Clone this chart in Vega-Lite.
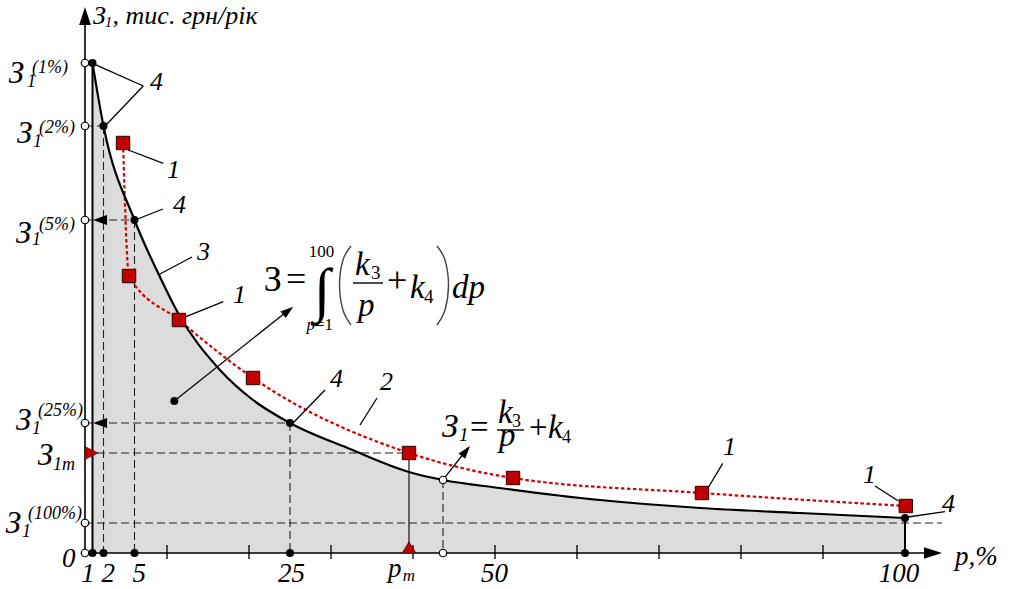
{
  "$schema": "https://vega.github.io/schema/vega-lite/v6.json",
  "width": 1009,
  "height": 589,
  "autosize": {"type": "none"},
  "padding": 0,
  "background": "white",
  "config": {"view": {"stroke": null}, "text": {"font": "Liberation Serif, Times New Roman, serif"}},
  "datasets": {
    "curve": [
      {"p": 1, "z": 49.0}, {"p": 2, "z": 42.7}, {"p": 5, "z": 33.3}, {"p": 8.92, "z": 27.6},
      {"p": 11.34, "z": 24.0}, {"p": 16.46, "z": 18.3}, {"p": 20.49, "z": 15.3}, {"p": 25, "z": 13.0},
      {"p": 32.32, "z": 10.4}, {"p": 39.51, "z": 8.1}, {"p": 43.66, "z": 7.3}, {"p": 50.61, "z": 6.5},
      {"p": 62.8, "z": 5.3}, {"p": 75.0, "z": 4.5}, {"p": 87.2, "z": 4.0}, {"p": 100, "z": 3.5}
    ],
    "squares": [
      {"p": 3.89, "z": 41.0}, {"p": 4.47, "z": 27.7}, {"p": 11.46, "z": 23.3}, {"p": 20.49, "z": 17.5},
      {"p": 39.51, "z": 10.0}, {"p": 52.2, "z": 7.5}, {"p": 75.24, "z": 6.0}, {"p": 100.1, "z": 4.7}
    ],
    "dashed": [
      {"p": 0, "z": 42.7, "p2": 2.05, "z2": 42.7},
      {"p": 0, "z": 33.3, "p2": 5, "z2": 33.3},
      {"p": 0, "z": 13, "p2": 25, "z2": 13},
      {"p": 0, "z": 10, "p2": 39.51, "z2": 10},
      {"p": 0, "z": 3, "p2": 104.5, "z2": 3},
      {"p": 2, "z": 42.7, "p2": 2, "z2": 0},
      {"p": 5, "z": 33.3, "p2": 5, "z2": 0},
      {"p": 25, "z": 13, "p2": 25, "z2": 0},
      {"p": 43.66, "z": 7.3, "p2": 43.66, "z2": 0}
    ],
    "thin": [{"p": 39.51, "z": 10, "p2": 39.51, "z2": 0}],
    "bounds": [
      {"p": 1, "z": 49, "p2": 1, "z2": 0},
      {"p": 100, "z": 3.5, "p2": 100, "z2": 0}
    ],
    "axes": [
      {"p": 0, "z": 0, "p2": 0, "z2": 53.2},
      {"p": 0, "z": 0, "p2": 102.5, "z2": 0}
    ],
    "ticks": [
      {"p": 10, "z": 0.8, "p2": 10, "z2": -0.6}, {"p": 20, "z": 0.8, "p2": 20, "z2": -0.6},
      {"p": 30, "z": 0.8, "p2": 30, "z2": -0.6}, {"p": 40, "z": 0.8, "p2": 40, "z2": -0.6},
      {"p": 50, "z": 0.8, "p2": 50, "z2": -0.6}, {"p": 60, "z": 0.8, "p2": 60, "z2": -0.6},
      {"p": 70, "z": 0.8, "p2": 70, "z2": -0.6}, {"p": 80, "z": 0.8, "p2": 80, "z2": -0.6},
      {"p": 90, "z": 0.8, "p2": 90, "z2": -0.6}
    ],
    "fracbars": [
      {"p": 32.68, "z": 27.0, "p2": 36.34, "z2": 27.0},
      {"p": 50.24, "z": 12.3, "p2": 53.54, "z2": 12.3}
    ],
    "parens": [
      {"id": "L", "i": 0, "p": 32.44, "z": 30.7}, {"id": "L", "i": 1, "p": 31.46, "z": 29.3},
      {"id": "L", "i": 2, "p": 31.04, "z": 26.8}, {"id": "L", "i": 3, "p": 31.46, "z": 24.3},
      {"id": "L", "i": 4, "p": 32.44, "z": 22.8},
      {"id": "R", "i": 0, "p": 42.93, "z": 30.7}, {"id": "R", "i": 1, "p": 43.9, "z": 29.3},
      {"id": "R", "i": 2, "p": 44.33, "z": 26.8}, {"id": "R", "i": 3, "p": 43.9, "z": 24.3},
      {"id": "R", "i": 4, "p": 42.93, "z": 22.8}
    ],
    "leaders": [
      {"p": 1.0, "z": 48.97, "p2": 6.35, "z2": 46.7},
      {"p": 2.08, "z": 42.63, "p2": 6.35, "z2": 46.7},
      {"p": 4.4, "z": 40.3, "p2": 9.43, "z2": 38.97},
      {"p": 5.08, "z": 33.3, "p2": 9.38, "z2": 34.4},
      {"p": 8.62, "z": 27.8, "p2": 13.05, "z2": 29.6},
      {"p": 12.32, "z": 23.63, "p2": 16.87, "z2": 25.13},
      {"p": 10.89, "z": 15.2, "p2": 25.0, "z2": 24.4},
      {"p": 25.37, "z": 13.0, "p2": 29.27, "z2": 16.3},
      {"p": 33.54, "z": 12.8, "p2": 35.61, "z2": 15.5},
      {"p": 43.7, "z": 7.37, "p2": 46.7, "z2": 10.5},
      {"p": 75.98, "z": 6.5, "p2": 77.77, "z2": 8.97},
      {"p": 96.34, "z": 6.7, "p2": 99.15, "z2": 5.23},
      {"p": 100.37, "z": 3.6, "p2": 104.88, "z2": 4.13}
    ],
    "arrows": [
      {"kind": "axis", "p": 0, "z": 54.6, "dir": -90},
      {"kind": "axis", "p": 104.51, "z": 0, "dir": 0},
      {"kind": "guide", "p": 1.05, "z": 33.3, "dir": 180},
      {"kind": "guide", "p": 1.05, "z": 13, "dir": 180},
      {"kind": "note", "p": 25.4, "z": 24.63, "dir": -38.4},
      {"kind": "note", "p": 46.95, "z": 10.7, "dir": -51.5}
    ],
    "dots": [
      {"p": 1, "z": 49}, {"p": 2, "z": 42.7}, {"p": 5, "z": 33.3}, {"p": 25, "z": 13}, {"p": 100, "z": 3.5},
      {"p": 1, "z": 0}, {"p": 2, "z": 0}, {"p": 5, "z": 0}, {"p": 25, "z": 0}, {"p": 100, "z": 0},
      {"p": 10.89, "z": 15.2}
    ],
    "circles": [
      {"p": 0, "z": 49}, {"p": 0, "z": 42.7}, {"p": 0, "z": 33.3}, {"p": 0, "z": 13}, {"p": 0, "z": 3}, {"p": 0, "z": 0},
      {"p": 43.66, "z": 7.3}, {"p": 43.66, "z": 0}
    ],
    "means": [
      {"kind": "z1m", "p": 0, "z": 10.0},
      {"kind": "pm", "p": 39.51, "z": 0}
    ],
    "texts": [
      {"role": "ylab", "t": "З", "p": -9.3, "z": 47.0},
      {"role": "ylab", "t": "З", "p": -8.3, "z": 41.0},
      {"role": "ylab", "t": "З", "p": -8.4, "z": 31.0},
      {"role": "ylab", "t": "З", "p": -8.4, "z": 12.3},
      {"role": "ylab", "t": "З", "p": -5.75, "z": 8.8},
      {"role": "ylab", "t": "З", "p": -9.65, "z": 2.0},
      {"role": "ylab_sub", "t": "1", "p": -7.073, "z": 46.6},
      {"role": "ylab_sub", "t": "1", "p": -6.341, "z": 40.6},
      {"role": "ylab_sub", "t": "1", "p": -6.463, "z": 30.8},
      {"role": "ylab_sub", "t": "1", "p": -6.463, "z": 11.9},
      {"role": "ylab_sub", "t": "1m", "p": -3.902, "z": 8.3},
      {"role": "ylab_sub", "t": "1", "p": -7.683, "z": 1.6},
      {"role": "ylab_sup", "t": "(1%)", "p": -6.463, "z": 48.0},
      {"role": "ylab_sup", "t": "(2%)", "p": -5.61, "z": 42.0},
      {"role": "ylab_sup", "t": "(5%)", "p": -5.61, "z": 32.3},
      {"role": "ylab_sup", "t": "(25%)", "p": -5.732, "z": 13.7},
      {"role": "ylab_sup", "t": "(100%)", "p": -6.951, "z": 3.4},
      {"role": "xlab", "t": "0", "p": -2.805, "z": -1.4},
      {"role": "xlab", "t": "1", "p": -0.45, "z": -2.9},
      {"role": "xlab", "t": "2", "p": 1.82, "z": -2.9},
      {"role": "xlab", "t": "5", "p": 4.8, "z": -2.9},
      {"role": "xlab", "t": "25", "p": 23.55, "z": -2.9},
      {"role": "xlab", "t": "50", "p": 48.3, "z": -2.9},
      {"role": "xlab", "t": "100", "p": 96.8, "z": -2.9},
      {"role": "xlab", "t": "p", "p": 36.95, "z": -2.4},
      {"role": "xlab", "t": "p,%", "p": 106.1, "z": -1.2},
      {"role": "xlab_sub", "t": "m", "p": 38.75, "z": -2.8},
      {"role": "title", "t": "З", "p": 1.045, "z": 52.9},
      {"role": "title", "t": ", тис. грн/рік", "p": 2.88, "z": 52.9},
      {"role": "title_sub", "t": "1", "p": 2.12, "z": 52.6},
      {"role": "num", "t": "4", "p": 7.385, "z": 46.3},
      {"role": "num", "t": "1", "p": 10.0, "z": 37.5},
      {"role": "num", "t": "4", "p": 10.73, "z": 34.0},
      {"role": "num", "t": "3", "p": 13.66, "z": 29.3},
      {"role": "num", "t": "1", "p": 18.05, "z": 25.0},
      {"role": "num", "t": "4", "p": 29.88, "z": 16.6},
      {"role": "num", "t": "2", "p": 35.98, "z": 16.3},
      {"role": "num", "t": "1", "p": 77.8, "z": 9.8},
      {"role": "num", "t": "1", "p": 94.88, "z": 7.0},
      {"role": "num", "t": "4", "p": 104.51, "z": 4.1},
      {"role": "f1", "t": "З", "p": 21.8, "z": 26.2},
      {"role": "f1", "t": "=", "p": 24.51, "z": 26.2},
      {"role": "f1", "t": "+", "p": 36.83, "z": 26.1},
      {"role": "f1_var", "t": "k", "p": 32.93, "z": 27.8},
      {"role": "f1_var", "t": "p", "p": 33.29, "z": 23.7},
      {"role": "f1_var", "t": "k", "p": 39.63, "z": 25.5},
      {"role": "f1_var", "t": "dp", "p": 44.76, "z": 25.5},
      {"role": "f1_idx", "t": "3", "p": 34.88, "z": 27.4},
      {"role": "f1_idx", "t": "4", "p": 41.34, "z": 25.0},
      {"role": "f1_lim", "t": "100", "p": 27.3, "z": 29.6},
      {"role": "f1_lim", "t": "=1", "p": 28.05, "z": 22.3},
      {"role": "f1_limvar", "t": "p", "p": 27.0, "z": 22.3},
      {"role": "f1_int", "t": "∫", "p": 27.9, "z": 24.3},
      {"role": "f2", "t": "=", "p": 46.95, "z": 11.5},
      {"role": "f2", "t": "+", "p": 54.15, "z": 11.5},
      {"role": "f2_var", "t": "З", "p": 43.54, "z": 11.6},
      {"role": "f2_var", "t": "k", "p": 50.37, "z": 13.0},
      {"role": "f2_var", "t": "p", "p": 50.49, "z": 10.7},
      {"role": "f2_var", "t": "k", "p": 56.46, "z": 11.5},
      {"role": "f2_idx", "t": "3", "p": 52.07, "z": 12.6},
      {"role": "f2_idx", "t": "4", "p": 58.17, "z": 11.0},
      {"role": "f2_sub", "t": "1", "p": 45.61, "z": 11.2}
    ]
  },
  "encoding": {
    "x": {"field": "p", "type": "quantitative", "axis": null,
          "scale": {"domain": [-10.366, 0, 1, 2, 5, 10, 112.683], "range": [0, 85, 92.5, 103.5, 134.5, 167, 1009], "nice": false, "zero": false}},
    "y": {"field": "z", "type": "quantitative", "axis": null,
          "scale": {"domain": [-3.6, 55.3], "nice": false, "zero": false}}
  },
  "layer": [
    {"data": {"name": "curve"}, "mark": {"type": "area", "interpolate": "monotone", "fill": "#dcdcdc"}},
    {"data": {"name": "dashed"}, "mark": {"type": "rule", "stroke": "#222", "strokeWidth": 1.1, "strokeDash": [8, 4]},
     "encoding": {"x2": {"field": "p2"}, "y2": {"field": "z2"}}},
    {"data": {"name": "thin"}, "mark": {"type": "rule", "stroke": "#000", "strokeWidth": 1.1},
     "encoding": {"x2": {"field": "p2"}, "y2": {"field": "z2"}}},
    {"data": {"name": "bounds"}, "mark": {"type": "rule", "stroke": "#000", "strokeWidth": 2},
     "encoding": {"x2": {"field": "p2"}, "y2": {"field": "z2"}}},
    {"data": {"name": "axes"}, "mark": {"type": "rule", "stroke": "#000", "strokeWidth": 1.6},
     "encoding": {"x2": {"field": "p2"}, "y2": {"field": "z2"}}},
    {"data": {"name": "ticks"}, "mark": {"type": "rule", "stroke": "#000", "strokeWidth": 1.3},
     "encoding": {"x2": {"field": "p2"}, "y2": {"field": "z2"}}},
    {"data": {"name": "squares"}, "mark": {"type": "line", "interpolate": "monotone", "stroke": "#d40000", "strokeWidth": 2.2, "strokeDash": [3.5, 2.5]}},
    {"data": {"name": "curve"}, "mark": {"type": "line", "interpolate": "monotone", "stroke": "#000", "strokeWidth": 2.2}},
    {"data": {"name": "fracbars"}, "mark": {"type": "rule", "stroke": "#000", "strokeWidth": 1.4},
     "encoding": {"x2": {"field": "p2"}, "y2": {"field": "z2"}}},
    {"data": {"name": "parens"}, "mark": {"type": "line", "interpolate": "cardinal", "stroke": "#444", "strokeWidth": 1.4},
     "encoding": {"detail": {"field": "id"}, "order": {"field": "i", "type": "quantitative"}}},
    {"data": {"name": "leaders"}, "mark": {"type": "rule", "stroke": "#000", "strokeWidth": 1.3},
     "encoding": {"x2": {"field": "p2"}, "y2": {"field": "z2"}}},
    {"data": {"name": "arrows"}, "transform": [{"filter": "datum.kind === 'axis'"}],
     "mark": {"type": "point", "shape": "M0,0L-2,-0.65L-2,0.65Z", "filled": true, "fill": "#000", "size": 324, "opacity": 1},
     "encoding": {"angle": {"field": "dir", "type": "quantitative", "scale": null}}},
    {"data": {"name": "arrows"}, "transform": [{"filter": "datum.kind === 'guide'"}],
     "mark": {"type": "point", "shape": "M0,0L-2,-0.7L-2,0.7Z", "filled": true, "fill": "#000", "size": 196, "opacity": 1},
     "encoding": {"angle": {"field": "dir", "type": "quantitative", "scale": null}}},
    {"data": {"name": "arrows"}, "transform": [{"filter": "datum.kind === 'note'"}],
     "mark": {"type": "point", "shape": "M0,0L-2,-0.65L-2,0.65Z", "filled": true, "fill": "#000", "size": 169, "opacity": 1},
     "encoding": {"angle": {"field": "dir", "type": "quantitative", "scale": null}}},
    {"data": {"name": "squares"}, "mark": {"type": "point", "shape": "square", "filled": true, "fill": "#c00000", "stroke": "#2a0000", "strokeWidth": 1, "size": 180, "opacity": 1}},
    {"data": {"name": "dots"}, "mark": {"type": "point", "shape": "circle", "filled": true, "fill": "#000", "size": 64, "opacity": 1}},
    {"data": {"name": "circles"}, "mark": {"type": "point", "shape": "circle", "filled": true, "fill": "#fff", "stroke": "#000", "strokeWidth": 1.2, "size": 56, "opacity": 1}},
    {"data": {"name": "means"}, "transform": [{"filter": "datum.kind === 'z1m'"}],
     "mark": {"type": "point", "shape": "M0,-1L2,0L0,1Z", "filled": true, "fill": "#c00000", "stroke": "#300", "strokeWidth": 0.6, "size": 169, "opacity": 1}},
    {"data": {"name": "means"}, "transform": [{"filter": "datum.kind === 'pm'"}],
     "mark": {"type": "point", "shape": "M-1,0L1,0L0,-1.6Z", "filled": true, "fill": "#c00000", "stroke": "#300", "strokeWidth": 0.6, "size": 196, "opacity": 1}},
    {"data": {"name": "texts"}, "transform": [{"filter": "datum.role === 'ylab'"}],
     "mark": {"type": "text", "align": "left", "baseline": "alphabetic", "fontStyle": "italic", "fontSize": 31, "fill": "#000"},
     "encoding": {"text": {"field": "t"}}},
    {"data": {"name": "texts"}, "transform": [{"filter": "datum.role === 'ylab_sub'"}],
     "mark": {"type": "text", "align": "left", "baseline": "alphabetic", "fontStyle": "italic", "fontSize": 18, "fill": "#000"},
     "encoding": {"text": {"field": "t"}}},
    {"data": {"name": "texts"}, "transform": [{"filter": "datum.role === 'ylab_sup'"}],
     "mark": {"type": "text", "align": "left", "baseline": "alphabetic", "fontStyle": "italic", "fontSize": 18, "fill": "#000"},
     "encoding": {"text": {"field": "t"}}},
    {"data": {"name": "texts"}, "transform": [{"filter": "datum.role === 'xlab'"}],
     "mark": {"type": "text", "align": "left", "baseline": "alphabetic", "fontStyle": "italic", "fontSize": 27, "fill": "#000"},
     "encoding": {"text": {"field": "t"}}},
    {"data": {"name": "texts"}, "transform": [{"filter": "datum.role === 'xlab_sub'"}],
     "mark": {"type": "text", "align": "left", "baseline": "alphabetic", "fontStyle": "italic", "fontSize": 17, "fill": "#000"},
     "encoding": {"text": {"field": "t"}}},
    {"data": {"name": "texts"}, "transform": [{"filter": "datum.role === 'title'"}],
     "mark": {"type": "text", "align": "left", "baseline": "alphabetic", "fontStyle": "italic", "fontSize": 26, "fill": "#000"},
     "encoding": {"text": {"field": "t"}}},
    {"data": {"name": "texts"}, "transform": [{"filter": "datum.role === 'title_sub'"}],
     "mark": {"type": "text", "align": "left", "baseline": "alphabetic", "fontStyle": "italic", "fontSize": 15, "fill": "#000"},
     "encoding": {"text": {"field": "t"}}},
    {"data": {"name": "texts"}, "transform": [{"filter": "datum.role === 'num'"}],
     "mark": {"type": "text", "align": "left", "baseline": "alphabetic", "fontStyle": "italic", "fontSize": 26, "fill": "#000"},
     "encoding": {"text": {"field": "t"}}},
    {"data": {"name": "texts"}, "transform": [{"filter": "datum.role === 'f1'"}],
     "mark": {"type": "text", "align": "left", "baseline": "alphabetic", "fontSize": 36, "fill": "#000"},
     "encoding": {"text": {"field": "t"}}},
    {"data": {"name": "texts"}, "transform": [{"filter": "datum.role === 'f1_var'"}],
     "mark": {"type": "text", "align": "left", "baseline": "alphabetic", "fontStyle": "italic", "fontSize": 33, "fill": "#000"},
     "encoding": {"text": {"field": "t"}}},
    {"data": {"name": "texts"}, "transform": [{"filter": "datum.role === 'f1_idx'"}],
     "mark": {"type": "text", "align": "left", "baseline": "alphabetic", "fontSize": 19, "fill": "#000"},
     "encoding": {"text": {"field": "t"}}},
    {"data": {"name": "texts"}, "transform": [{"filter": "datum.role === 'f1_lim'"}],
     "mark": {"type": "text", "align": "left", "baseline": "alphabetic", "fontSize": 17, "fill": "#000"},
     "encoding": {"text": {"field": "t"}}},
    {"data": {"name": "texts"}, "transform": [{"filter": "datum.role === 'f1_limvar'"}],
     "mark": {"type": "text", "align": "left", "baseline": "alphabetic", "fontStyle": "italic", "fontSize": 17, "fill": "#000"},
     "encoding": {"text": {"field": "t"}}},
    {"data": {"name": "texts"}, "transform": [{"filter": "datum.role === 'f1_int'"}],
     "mark": {"type": "text", "align": "left", "baseline": "alphabetic", "fontSize": 60, "fill": "#000"},
     "encoding": {"text": {"field": "t"}}},
    {"data": {"name": "texts"}, "transform": [{"filter": "datum.role === 'f2'"}],
     "mark": {"type": "text", "align": "left", "baseline": "alphabetic", "fontSize": 33, "fill": "#000"},
     "encoding": {"text": {"field": "t"}}},
    {"data": {"name": "texts"}, "transform": [{"filter": "datum.role === 'f2_var'"}],
     "mark": {"type": "text", "align": "left", "baseline": "alphabetic", "fontStyle": "italic", "fontSize": 33, "fill": "#000"},
     "encoding": {"text": {"field": "t"}}},
    {"data": {"name": "texts"}, "transform": [{"filter": "datum.role === 'f2_idx'"}],
     "mark": {"type": "text", "align": "left", "baseline": "alphabetic", "fontSize": 18, "fill": "#000"},
     "encoding": {"text": {"field": "t"}}},
    {"data": {"name": "texts"}, "transform": [{"filter": "datum.role === 'f2_sub'"}],
     "mark": {"type": "text", "align": "left", "baseline": "alphabetic", "fontStyle": "italic", "fontSize": 19, "fill": "#000"},
     "encoding": {"text": {"field": "t"}}}
  ]
}
